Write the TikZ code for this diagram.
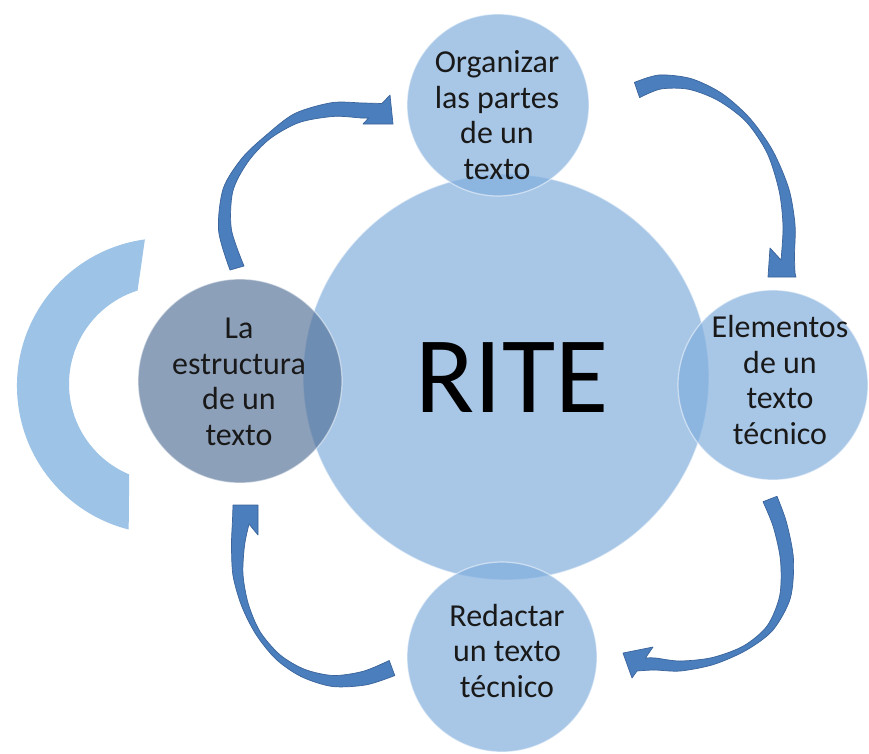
\documentclass[tikz,border=0pt]{standalone}
\usepackage{fontspec}
\setmainfont{Carlito}
\definecolor{bubfill}{RGB}{127,173,221}
\definecolor{leftfill}{RGB}{80,110,150}
\definecolor{bracketfill}{RGB}{157,195,230}
\definecolor{arrowfill}{RGB}{74,126,188}
\definecolor{arrowedge}{RGB}{58,100,155}
\begin{document}
\begin{tikzpicture}[x=0.02cm,y=0.02cm,
  bub/.style={circle,inner sep=0pt,fill=bubfill,fill opacity=0.68,draw=white,draw opacity=0.5,line width=0.7pt},
  darkbub/.style={bub,fill=leftfill,fill opacity=0.65},
  lbl/.style={align=center,inner sep=0pt,font=\fontsize{18.2}{20.2}\selectfont,text=black!90},
  barrow/.style={fill=arrowfill,draw=arrowedge,line width=0.4pt,line join=round}]
\begin{scope}[yscale=-1]
\useasboundingbox (0,0) rectangle (869,754);
\fill[white] (0,0) rectangle (869,754);
% left bracket
\fill[bracketfill] (144.9,239.4) arc[start angle=262.2, end angle=104.2, radius=148]
  -- (129.2,474.4) arc[start angle=112.7, end angle=252.5, radius=98] -- cycle;
% circles
\node[bub,minimum size=8.12cm] (c0) at (506,377) {};
\node[bub,minimum size=3.64cm] (c1) at (498,105) {};
\node[bub,minimum size=3.8cm] (c2) at (773,385) {};
\node[bub,minimum size=3.8cm] (c3) at (502,657) {};
\node[darkbub,minimum size=4.08cm] (c4) at (240,381) {};
% arrow 1 (left -> top)
\filldraw[barrow] (230,270) -- plot[smooth] coordinates {(230,270) (218.6,230.7) (223.2,188.6) (242.2,157.9) (266.4,135) (294.8,113.5) (332.1,102.6) (362.4,103) (382,103.5)}
  -- (390,95) -- (393,124) -- (363,124) -- (368.6,118)
  -- plot[smooth] coordinates {(368.6,118) (361.6,118) (333.9,116.4) (299.2,122.5) (269.6,139) (247.8,162.1) (232.8,191.4) (231.4,229.3) (244,266)} -- cycle;
% arrow 2 (top -> right)
\filldraw[barrow] (634.4,82.4) -- plot[smooth] coordinates {(634.4,82.4) (659.2,75) (691.3,78.7) (722.1,93.6) (749.9,118.3) (772.7,150.6) (788.8,188.7) (795,224.6) (794.5,255.2) (795,273)}
  -- (796,277) -- (768,277) -- (770,248) -- (781,260)
  -- plot[smooth] coordinates {(781,260) (781.5,254.8) (783,225.4) (779.2,191.3) (767.3,153.4) (746.1,121.7) (717.9,100.4) (688.7,89.3) (660.8,89) (639.6,97.6)} -- cycle;
% arrow 3 (right -> bottom)
\filldraw[barrow] (777,496.3) -- plot[smooth] coordinates {(777,496.3) (786.7,523.1) (793.5,559.6) (790.3,598.3) (772.8,630.2) (746.3,650.2) (713.9,664.4) (680.3,671) (654.5,670) (637,671)}
  -- (632,678) -- (623,653) -- (653,647) -- (645.5,658)
  -- plot[smooth] coordinates {(645.5,658) (655.5,658) (679.7,661) (712.1,657.6) (743.7,645.8) (767.2,625.8) (779.7,595.7) (780.5,560.4) (773.3,526.9) (763,501.7)} -- cycle;
% arrow 4 (bottom -> left)
\filldraw[barrow] (394.8,675.5) -- plot[smooth] coordinates {(394.8,675.5) (366.5,684.8) (332.6,686.5) (301.4,676.7) (276,659.2) (255.9,634.3) (241.7,606.1) (233,575.6) (231.5,544.4) (232.5,520) (233,505)}
  -- (258,505) -- (258,535) -- (249,524)
  -- plot[smooth] coordinates {(249,524) (244.5,545.6) (243,574.4) (248.3,603.9) (260.1,631.7) (280,654.8) (304.6,669.3) (333.4,675.5) (363.5,671.2) (389.2,660.5)} -- cycle;
% texts
\node[font=\fontsize{62}{70}\selectfont,inner sep=0pt] (t0) at (512,377.5) {RITE};
\node[lbl] (t1) at (497,115) {Organizar\\las partes\\de un\\texto};
\node[lbl] (t2) at (780,380) {Elementos\\de un\\texto\\técnico};
\node[lbl] (t3) at (507,651) {Redactar\\un texto\\técnico};
\node[lbl] (t4) at (239,382) {La\\estructura\\de un\\texto};
\end{scope}
\end{tikzpicture}
\end{document}
